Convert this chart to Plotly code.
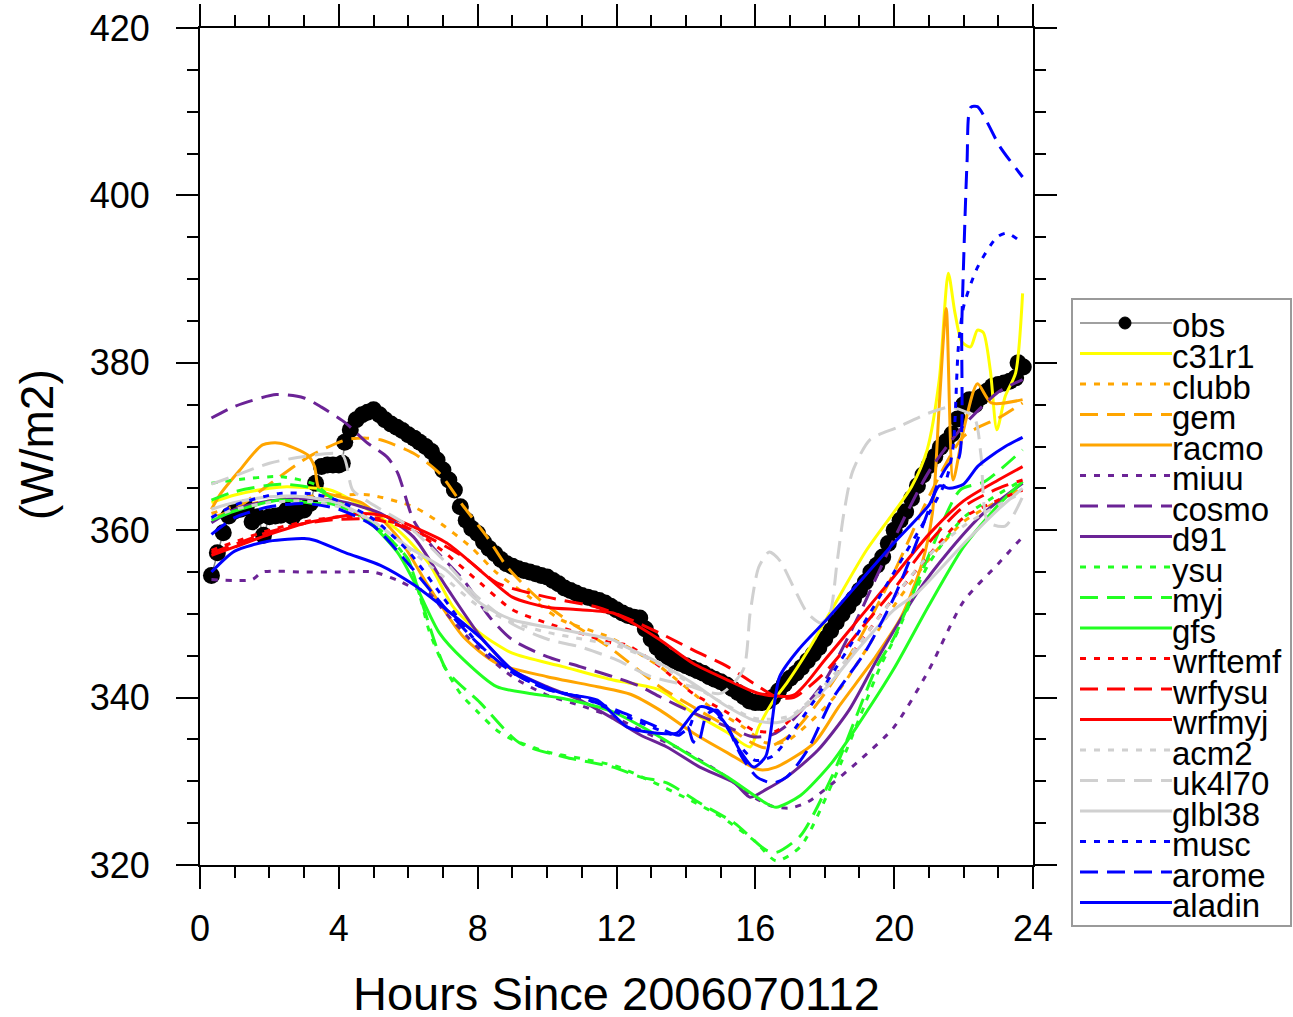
import plotly.graph_objects as go

# ---------------- data (hours since 2006070112, W/m2) ----------------
obs_h = [0.33,0.5,0.67,0.83,1.0,1.17,1.33,1.5,1.67,1.83,2.0,2.17,2.33,2.5,2.67,2.83,3.0,3.17,3.33,3.5,
         3.67,3.83,4.0,4.1,4.17,4.33,4.5,4.67,4.83,5.0,5.17,5.33,5.5,5.67,5.83,6.0,6.17,6.33,6.5,6.67,
         6.83,7.0,7.17,7.33,7.5,7.67,7.83,8.0,8.17,8.33,8.5,8.67,8.83,9.0,9.17,9.33,9.5,9.67,9.83,10.0,
         10.17,10.33,10.5,10.67,10.83,11.0,11.17,11.33,11.5,11.67,11.83,12.0,12.17,12.33,12.5,12.67,12.83,13.0,13.17,13.33,
         13.5,13.67,13.83,14.0,14.17,14.33,14.5,14.67,14.83,15.0,15.17,15.33,15.5,15.67,15.83,16.0,16.17,16.33,16.5,16.67,
         16.83,17.0,17.17,17.33,17.5,17.67,17.83,18.0,18.17,18.33,18.5,18.67,18.83,19.0,19.17,19.33,19.5,19.67,19.83,20.0,
         20.17,20.33,20.5,20.67,20.83,21.0,21.17,21.33,21.5,21.67,21.83,22.0,22.17,22.33,22.5,22.67,22.83,23.0,23.17,23.33,
         23.5,23.57,23.72]
obs_v = [354.6,357.3,359.7,361.7,362.3,362.5,362.7,361.0,361.6,359.4,361.6,361.7,361.8,362.4,361.6,362.2,362.4,363.2,365.6,367.6,
         367.8,367.8,367.8,368.0,370.5,372.0,373.2,373.8,374.1,374.4,373.8,373.2,372.7,372.3,371.9,371.4,371.0,370.5,370.0,369.4,
         368.4,367.2,366.0,364.8,362.8,361.2,360.2,359.6,358.6,357.8,357.2,356.5,356.0,355.7,355.4,355.2,355.0,354.8,354.6,354.4,
         354.0,353.6,353.1,352.8,352.5,352.2,352.0,351.8,351.6,351.3,350.9,350.5,350.1,349.8,349.6,349.5,348.2,347.0,346.0,345.3,
         344.8,344.4,344.1,343.8,343.5,343.2,342.9,342.5,342.2,341.9,341.5,341.1,340.6,340.1,339.6,339.4,339.4,339.5,340.0,340.8,
         341.6,342.3,342.9,343.6,344.4,345.2,346.0,347.0,348.0,349.0,350.0,350.9,351.8,352.8,353.8,355.0,355.8,356.8,358.4,360.0,
         361.2,362.2,363.8,365.3,366.6,367.7,368.8,369.9,370.6,371.5,373.3,375.0,375.6,375.0,375.9,376.6,377.2,377.4,377.6,377.8,
         378.2,380.0,379.5]

c31r1_h = [0.33,1,2,2.5,3,3.75,4.7,5.7,6.6,7.3,8.07,9,10.45,11.9,12.3,13.25,14.2,15.2,15.85,16.1,16.5,16.9,17.5,18.2,19.2,
           20.5,20.95,21.3,21.56,21.75,21.95,22.2,22.4,22.57,22.77,22.96,23.2,23.5,23.7]
c31r1_v = [363.3,364.2,365.0,365.2,365.1,364.8,362.8,360.0,356.0,350.8,347.7,345.3,343.7,342.1,341.8,340.9,338.2,335.8,334.1,336.5,339.5,341.7,345.5,350.5,357.6,
           365.2,369.6,378.0,390.7,386.0,382.5,381.9,383.9,383.6,379.1,372.0,376.0,378.8,388.3]

clubb_h = [0.33,1,2,3,4,4.9,6.15,6.8,7.8,8.55,9.5,10.4,11.8,13.25,14.7,15.65,16.3,16.9,18.2,19,20,21,22,23,23.7]
clubb_v = [362.0,362.8,363.5,364.0,364.2,364.2,362.8,361.2,358.0,354.9,352.0,349.3,347.2,343.7,338.9,336.5,334.6,334.8,339.7,344.5,351.0,356.5,361.0,363.5,365.0]

gem_h = [0.33,1,2,3.1,4.2,4.8,5.2,6.15,6.9,7.6,8.27,8.85,9.7,10.7,11.8,13.25,14.2,15.2,15.9,16.3,17,18,19,20,21,22,23.05,23.7]
gem_v = [361.5,362.5,365.5,368.7,370.8,371.0,370.8,369.2,366.8,362.8,359.2,355.6,352.0,348.9,346.0,341.3,338.9,336.5,334.6,334.0,335.5,340.5,347.0,355.0,364.0,371.2,373.5,375.2]

racmo_h = [0.33,0.6,1.15,1.8,2.3,3.1,3.3,3.45,4.7,5.7,6.6,7.6,8.55,10,11.45,12.4,13.25,14.2,15.2,16.1,16.6,17.7,18.4,19.4,20.2,
           20.8,21.1,21.3,21.5,21.7,22.0,22.4,22.8,23.7]
racmo_v = [362.5,364.4,367.2,370.2,370.4,369.0,367.6,364.8,363.2,359.2,353.2,347.2,344.1,342.5,341.3,340.4,338.5,335.8,333.4,331.4,331.7,334.6,338.9,344.5,349.6,
           356.0,362.0,375.0,386.5,366.0,372.0,377.5,375.2,375.6]

miuu_h = [0.33,1.5,1.8,3,4,5,5.7,6.1,6.6,7,8,9,10,11,12,13,14,15,16,16.5,17,17.5,18,19,20,21,22,23,23.7]
miuu_v = [354.1,354.1,355.0,355.0,355.0,355.0,354.0,353.2,352.5,350.5,346.0,342.5,340.3,339.0,337.5,335.5,333.5,331.0,328.0,327.0,326.8,327.5,329.0,332.5,336.5,343.3,351.5,356.0,359.2]

cosmo_h = [0.33,1,2.2,3,3.5,4.2,4.8,5.4,5.7,6.15,6.7,7.6,8.35,9,10,10.95,11.9,12.7,13.25,14.2,15.2,15.95,16.5,17,18,19,20,21,22,23,23.7]
cosmo_v = [373.4,374.8,376.2,375.8,374.7,372.8,370.5,368.7,366.8,361.2,358.0,354.0,349.6,346.9,344.9,343.7,342.5,341.3,340.1,338.2,336.5,335.3,335.6,337.0,342.0,350.0,359.0,367.0,372.5,376.5,378.0]

d91_h = [0.33,1,2,3,4,5.2,6.15,7.1,8.1,9,10,10.95,11.9,12.7,13.45,14.4,15.4,15.85,16.3,16.9,17.8,18.7,19.5,20.66,21.6,22.57,23.7]
d91_v = [360.9,362.5,363.5,363.8,363.5,362.0,359.2,353.2,347.2,343.3,341.3,339.7,337.5,335.5,334.1,331.7,329.8,328.1,329.0,330.5,333.7,338.5,344.5,352.5,357.6,362.0,365.6]

ysu_h = [0.33,1,2.3,3.3,3.75,4.5,5.2,5.7,6,6.25,6.6,7,7.5,8,8.55,9,10,11,12,13,14,15,16,16.6,17.3,18.5,19.6,20,21,22,23,23.7]
ysu_v = [365.6,366.0,366.4,365.5,364.0,362.0,360.0,358.0,356.3,353.5,348.0,344.0,340.5,338.3,336.1,335.0,333.5,332.7,331.8,330.0,328.0,325.8,322.8,320.5,322.2,332.5,343.7,347.0,356.0,361.5,364.3,366.0]

myj_h = [0.33,1,2.3,3.3,3.75,4.5,5.2,5.7,6,6.4,7.1,8.07,9.2,10.5,11.9,12.7,13.45,14.4,15.4,16.3,16.6,17.3,18.2,19.5,20,21,21.9,22.6,23.7]
myj_v = [363.6,364.6,365.5,365.0,364.0,362.0,360.0,358.0,356.5,351.3,343.3,339.4,334.6,332.9,331.7,330.5,329.8,327.4,325.0,321.8,321.5,323.5,330.5,343.7,347.2,357.0,364.8,365.8,369.6]

gfs_h = [0.33,1,2.3,3.3,3.75,4.7,5.7,6.15,6.9,7.6,8.55,9.5,10.46,11.9,13.25,14.2,15.2,16.3,16.6,17.3,18.2,19,20,21,22,23,23.7]
gfs_v = [361.2,362.3,363.6,363.2,363.2,361.6,357.3,354.0,347.7,344.5,341.3,340.5,339.9,338.3,335.3,332.9,330.5,327.4,326.9,328.3,332.2,337.0,343.5,351.0,358.0,363.0,365.8]

wrftemf_h = [0.33,1,2,3,4,5,6,7,8.07,9,10,10.95,11.9,12.3,13.25,14.2,15.2,15.95,16.6,17.1,18,19,20,21,22,23,23.7]
wrftemf_v = [357.6,358.6,360.0,361.0,361.6,361.5,360.3,357.5,353.7,350.5,348.9,347.7,346.5,346.3,343.7,340.5,338.2,336.1,336.0,337.7,341.0,346.5,352.0,357.0,361.5,363.6,364.8]

wrfysu_h = [0.33,1,2,3,4,5,6.15,7.6,8.55,10,11.45,12.3,13.25,14.2,15.2,15.95,16.6,17.1,18,19,20,21,22,23,23.7]
wrfysu_v = [357.3,358.3,359.8,360.8,361.3,361.3,360.0,356.8,353.7,352.0,350.8,349.5,347.7,345.7,343.7,341.7,340.1,340.0,343.0,348.0,353.0,358.5,362.8,365.0,366.0]

wrfmyj_h = [0.33,1,2,3,4,4.7,5.4,6.15,7.1,8.07,9,10,10.95,11.9,12.3,13.25,14.2,15.2,16.1,17.1,18,19,20,21,22,23,23.7]
wrfmyj_v = [357.0,358.0,359.5,360.8,361.6,362.0,361.6,360.4,358.5,355.2,352.0,350.8,350.5,350.1,349.3,346.9,344.1,342.1,340.5,340.3,344.5,349.5,354.5,359.5,363.5,366.0,367.6]

acm2_h = [0.33,1,2,3,4,5,6,7,8,9,10,11,12,13,14,15,16,17,18,19,20,21,22,23,23.7]
acm2_v = [361.5,362.5,363.3,363.5,362.8,361.0,357.8,354.5,351.0,349.0,347.8,347.0,346.2,344.5,342.0,339.5,337.5,337.8,341.5,346.5,352.0,357.0,360.5,363.0,364.5]

uk4l70_h = [0.33,1,2,3,4.1,4.4,5,6,7,8,9,10,11,12,13,14,15,15.65,15.85,16.1,16.4,16.7,17.1,17.5,17.9,18.15,18.35,18.55,18.8,19.3,
            20.1,21,21.6,22.3,22.5,22.7,23.2,23.7]
uk4l70_v = [365.5,366.5,368.0,368.8,369.0,364.8,363.0,360.5,356.5,352.0,348.8,347.0,346.0,344.5,342.5,341.5,340.5,343.3,350.1,355.6,357.4,356.4,353.2,350.1,348.9,350.1,356.0,362.0,367.0,370.8,
            372.3,374.0,374.7,373.5,369.0,361.0,360.5,364.0]

glbl38_h = [0.33,1,2,3,4,5,6,7.1,8.07,9,10.45,11.9,12.3,13.25,14.2,15.2,15.95,16.6,17,18,19,20,20.66,22.1,23,23.7]
glbl38_v = [362.5,363.3,364.0,364.0,363.2,361.0,358.0,355.2,351.3,349.3,348.1,346.9,346.0,344.1,341.7,338.9,337.3,337.0,337.5,341.0,346.0,350.5,352.5,358.8,362.5,365.0]

musc_h = [0.33,1,2.3,3.3,4,5,6,7,8,9,10,10.95,12.3,13.25,13.75,14.1,14.3,14.6,15,15.5,16,16.5,17,18,19,20,21,21.5,21.7,21.85,
          22,22.4,22.96,23.25,23.7]
musc_v = [361.5,363.0,364.4,364.3,363.5,361.3,357.5,352.0,346.5,343.0,341.0,340.1,337.7,336.1,335.5,336.5,338.5,338.8,337.5,334.5,332.5,333.0,335.5,341.5,348.0,355.0,362.0,366.0,370.0,381.9,
          386.7,391.4,395.0,395.5,394.3]

arome_h = [0.33,1,2,3,4,5,6,7,8,9,10,11,12,13,13.8,14.05,14.2,14.35,14.6,14.9,15.2,15.6,16.05,16.5,16.9,17.5,18.2,19.2,20,20.5,
           21,21.3,21.6,21.85,21.95,22.1,22.2,22.4,23.05,23.7]
arome_v = [359.5,361.5,362.8,363.2,362.5,360.5,356.0,351.0,346.5,343.0,341.0,340.0,338.5,336.8,335.5,336.5,334.8,334.5,338.0,338.5,336.5,333.0,330.5,329.8,330.5,333.7,339.7,345.7,352.0,357.0,
           362.5,366.0,368.0,368.5,385.0,404.0,410.5,410.6,405.8,402.2]

aladin_h = [0.33,1,2,3,3.3,4.2,5.2,6.15,7.1,8.07,9,10,10.45,11.45,12.3,13.05,13.75,14,14.4,14.8,15.2,15.55,15.95,16.3,16.7,17.3,
            18.05,19,20,21,21.3,21.6,22,22.4,22.7,23.2,23.7]
aladin_v = [355.0,357.5,358.7,359.0,358.8,357.3,355.8,353.5,350.5,347.2,343.3,341.2,340.5,339.7,336.5,335.8,335.8,337.0,338.9,338.5,336.5,333.7,331.7,333.0,342.5,346.0,
            349.3,353.8,358.5,363.0,365.3,365.0,365.5,367.6,368.6,370.0,371.1]

# ---------------- styles ----------------
YEL, ORA, PUR, GRN, RED, GRY, BLU = "#FFFF00", "#FFA500", "#6B2396", "#22FF22", "#FF0000", "#D0D0D0", "#0000FF"
DOT, DASH, SOLID = "6px,8px", "18px,9px", "solid"

series = [
    ("c31r1", c31r1_h, c31r1_v, YEL, SOLID),
    ("clubb", clubb_h, clubb_v, ORA, DOT),
    ("gem", gem_h, gem_v, ORA, DASH),
    ("racmo", racmo_h, racmo_v, ORA, SOLID),
    ("miuu", miuu_h, miuu_v, PUR, DOT),
    ("cosmo", cosmo_h, cosmo_v, PUR, DASH),
    ("d91", d91_h, d91_v, PUR, SOLID),
    ("ysu", ysu_h, ysu_v, GRN, DOT),
    ("myj", myj_h, myj_v, GRN, DASH),
    ("gfs", gfs_h, gfs_v, GRN, SOLID),
    ("wrftemf", wrftemf_h, wrftemf_v, RED, DOT),
    ("wrfysu", wrfysu_h, wrfysu_v, RED, DASH),
    ("wrfmyj", wrfmyj_h, wrfmyj_v, RED, SOLID),
    ("acm2", acm2_h, acm2_v, GRY, DOT),
    ("uk4l70", uk4l70_h, uk4l70_v, GRY, DASH),
    ("glbl38", glbl38_h, glbl38_v, GRY, SOLID),
    ("musc", musc_h, musc_v, BLU, DOT),
    ("arome", arome_h, arome_v, BLU, DASH),
    ("aladin", aladin_h, aladin_v, BLU, SOLID),
]

FONT = "Liberation Sans, Arial, Helvetica, sans-serif"
W, H = 1293, 1017
L, R, T, B = 200, 1033, 28, 865  # plot area in pixels
LW = 3.0

fig = go.Figure()
fig.add_trace(go.Scatter(x=obs_h, y=obs_v, mode="lines+markers", name="obs",
                         line=dict(color="#808080", width=1.5),
                         marker=dict(color="black", size=17), showlegend=False))
for name, hx, vy, col, dash in series:
    fig.add_trace(go.Scatter(x=hx, y=vy, mode="lines", name=name,
                             line=dict(color=col, width=LW, dash=dash, shape="spline", smoothing=0.7),
                             showlegend=False))

axis_common = dict(showline=True, linecolor="black", linewidth=2, mirror="allticks",
                   ticks="outside", ticklen=22, tickwidth=2, tickcolor="black",
                   showgrid=False, zeroline=False, automargin=False, ticklabeloverflow="allow",
                   tickfont=dict(family=FONT, size=36, color="black"))
fig.update_xaxes(range=[0, 24], tickmode="linear", tick0=0, dtick=4,
                 minor=dict(dtick=1, ticks="outside", ticklen=11, tickwidth=2, tickcolor="black", showgrid=False),
                 ticklabelstandoff=9, **axis_common)
fig.update_yaxes(range=[320, 420], tickmode="linear", tick0=320, dtick=20,
                 minor=dict(dtick=5, ticks="outside", ticklen=11, tickwidth=2, tickcolor="black", showgrid=False),
                 ticklabelstandoff=19, **axis_common)

def px(xs):
    return (xs - L) / (R - L)

def py(ys):
    return (B - ys) / (B - T)

shapes, annos = [], []
# legend box
shapes.append(dict(type="rect", xref="paper", yref="paper", x0=px(1072), x1=px(1291), y0=py(926), y1=py(299),
                   line=dict(color="#9A9A9A", width=2), fillcolor="white", layer="below"))
legend_items = [("obs", "#808080", SOLID)] + [(s[0], s[3], s[4]) for s in series]
for i, (name, col, dash) in enumerate(legend_items):
    yy = 323 + 30.5 * i
    if name == "obs":
        shapes.append(dict(type="line", xref="paper", yref="paper", x0=px(1080), x1=px(1172), y0=py(yy), y1=py(yy),
                           line=dict(color="#808080", width=1.5)))
        shapes.append(dict(type="circle", xref="paper", yref="paper", x0=px(1119), x1=px(1131),
                           y0=py(yy + 6), y1=py(yy - 6), fillcolor="black", line=dict(color="black", width=1)))
    else:
        shapes.append(dict(type="line", xref="paper", yref="paper", x0=px(1080), x1=px(1172), y0=py(yy), y1=py(yy),
                           line=dict(color=col, width=LW, dash=dash)))
    annos.append(dict(text=name, xref="paper", yref="paper", x=px(1171), y=py(yy + 3), xanchor="left",
                      yanchor="middle", showarrow=False, borderpad=0,
                      font=dict(family=FONT, size=33, color="black")))

annos.append(dict(text="Hours Since 2006070112", xref="paper", yref="paper", x=px(616), y=py(993),
                  xanchor="center", yanchor="middle", showarrow=False,
                  font=dict(family=FONT, size=47, color="black")))
annos.append(dict(text="(W/m2)", xref="paper", yref="paper", x=px(37), y=py(445), textangle=-90,
                  xanchor="center", yanchor="middle", showarrow=False,
                  font=dict(family=FONT, size=46, color="black")))

fig.update_layout(width=W, height=H, autosize=False,
                  margin=dict(l=L, r=W - R, t=T, b=H - B, pad=0, autoexpand=False),
                  paper_bgcolor="white", plot_bgcolor="white",
                  shapes=shapes, annotations=annos, showlegend=False)

# remove the default page margin so the figure sits at the window's top-left corner
fig.write_html("out.html", config={"displayModeBar": False},
               post_script="document.body.style.margin='0';document.body.style.overflow='hidden';")
